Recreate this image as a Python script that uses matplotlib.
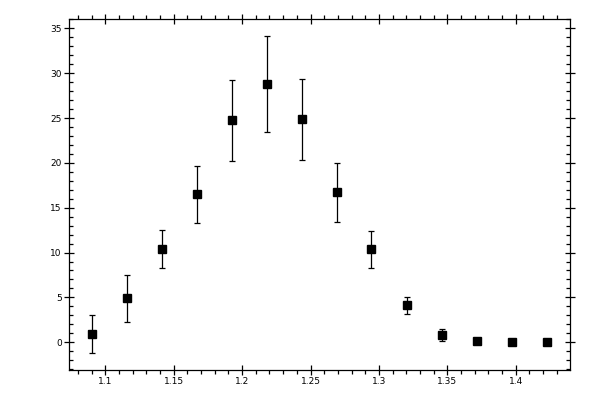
import matplotlib
matplotlib.use("Agg")
import matplotlib.pyplot as plt
from matplotlib.ticker import MultipleLocator, FormatStrFormatter

# values
x_vals = [1.0903, 1.1158, 1.1414, 1.1669, 1.1925, 1.2180, 1.2436,
          1.2691, 1.2943, 1.3204, 1.3459, 1.3715, 1.3970, 1.4225]
y_vals = [0.9, 4.9, 10.4, 16.5, 24.75, 28.85, 24.85,
          16.7, 10.35, 4.1, 0.75, 0.08, 0.0, 0.0]
y_errs = [2.15, 2.65, 2.08, 3.2, 4.5, 5.35, 4.55,
          3.3, 2.1, 0.9, 0.67, 0.0, 0.0, 0.0]

x_ticks = [1.1, 1.15, 1.2, 1.25, 1.3, 1.35, 1.4]
x_labels = ["1.1", "1.15", "1.2", "1.25", "1.3", "1.35", "1.4"]
y_ticks = [0, 5, 10, 15, 20, 25, 30, 35]

fig = plt.figure(figsize=(6, 4), dpi=100)
ax = fig.add_axes([0.115, 0.075, 0.835, 0.8775])

ax.errorbar(x_vals, y_vals, yerr=y_errs, fmt="s", color="black",
            markersize=5.6, elinewidth=0.9, capsize=2.0, capthick=0.9)

ax.set_xlim(1.0735, 1.4396)
ax.set_ylim(-3.1, 36.05)

ax.set_xticks(x_ticks)
ax.set_xticklabels(x_labels)
ax.set_yticks(y_ticks)
ax.xaxis.set_minor_locator(MultipleLocator(0.01))
ax.yaxis.set_minor_locator(MultipleLocator(1))
ax.yaxis.set_major_formatter(FormatStrFormatter("%d"))

for side in ax.spines.values():
    side.set_linewidth(0.9)

ax.tick_params(which="major", direction="inout", length=6.5, width=0.9,
               labelsize=6.5, pad=2, top=True, right=True)
ax.tick_params(axis="x", which="minor", direction="out", length=3, width=0.9,
               top=True, bottom=True)
ax.tick_params(axis="y", which="minor", direction="in", length=3, width=0.9,
               left=True, right=True)

fig.savefig("out.png", dpi=100)
